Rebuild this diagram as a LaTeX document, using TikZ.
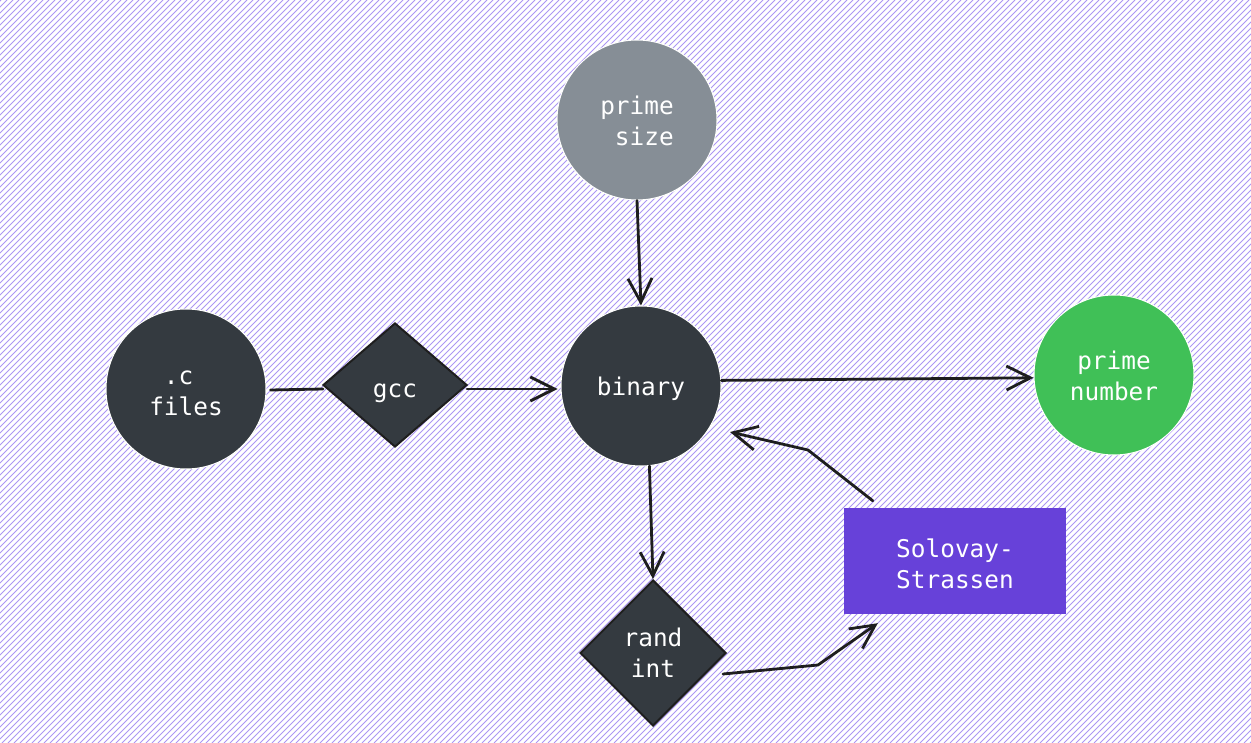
\documentclass[tikz,border=0pt]{standalone}
\usepackage{fontspec}
\usetikzlibrary{shapes.geometric,arrows.meta,calc}
\newfontfamily\monof{DejaVu Sans Mono}
\definecolor{hatchc}{RGB}{172,150,243}
\definecolor{darkfill}{HTML}{343A40}
\definecolor{grayfill}{HTML}{868E96}
\definecolor{greenfill}{HTML}{40C057}
\definecolor{violetfill}{HTML}{6741D9}
\definecolor{ink}{HTML}{1E1E1E}
\newcommand{\lowerby}[2]{\raisebox{-#1}[\height][\depth]{#2}}
\newcommand{\twolines}[3]{\begin{tabular}{@{}#1@{}}#2\\#3\end{tabular}}
\tikzset{
  lbl/.style={text=white, font=\monof\fontsize{24.4}{30.5}\selectfont, align=center},
  roundnode/.style={lbl, circle, minimum size=160pt, inner sep=0pt, draw=white, line width=1pt},
  diamondnode/.style={lbl, diamond, inner sep=0pt, fill=darkfill, draw=ink, line width=2pt},
  boxnode/.style={lbl, rectangle, fill=violetfill, minimum width=222pt, minimum height=106pt, inner sep=0pt},
  conn/.style={draw=ink, line width=2.8pt, line cap=round, line join=round},
  arr/.style={conn, -{Straight Barb[length=24pt,width=24pt,line width=2.8pt]}},
  hatch/.style={draw=hatchc, line width=0.9pt}
}
\begin{document}
\begin{tikzpicture}[x=1pt,y=-1pt]
\useasboundingbox (0,0) rectangle (1251,743);
\fill[white] (0,0) rectangle (1251,743);
\begin{scope}
\clip (0,0) rectangle (1251,743);
\foreach \i in {-760,-754,...,1260} {
  \draw[hatch] (\i,743) -- ({\i+743},0);
}
\end{scope}

\node[roundnode, fill=grayfill] (ps) at (637,120) {\lowerby{4pt}{\twolines{l}{prime}{\hphantom{x}size}}};
\node[roundnode, fill=darkfill] (cf) at (186,389) {\lowerby{5pt}{\twolines{l}{\hphantom{x}.c}{files}}};
\node[diamondnode, minimum width=144pt, minimum height=124pt] (gcc) at (395,385) {\lowerby{8pt}{gcc}};
\node[roundnode, fill=darkfill] (bin) at (641,386) {\lowerby{3pt}{binary}};
\node[roundnode, fill=greenfill] (pn) at (1114,375) {\lowerby{4pt}{\twolines{c}{prime}{number}}};
\node[diamondnode, minimum width=146pt, minimum height=146pt] (ri) at (653,653) {\lowerby{3pt}{\twolines{c}{rand}{int}}};
\node[boxnode] (sol) at (955,561) {\lowerby{6pt}{\twolines{c}{Solovay-}{Strassen}}};

\draw[arr] (ps.south) -- (bin.north);
\draw[conn] ($(cf.east)+(4,1)$) -- ($(gcc.west)+(1,4)$);
\draw[arr] ($(gcc.east)+(-1,4)$) -- ($(bin.west)+(-3,3)$);
\draw[arr] (bin.4) -- (pn.182);
\draw[arr] (bin.-84) -- (ri.north);
\draw[arr] ($(ri.east)+(-4,21)$) -- (818,665) -- ($(sol.south west)+(34,9)$);
\draw[arr] ($(sol.north west)+(29,-7)$) -- (808,450) -- ($(bin)+(89,46)$);
\end{tikzpicture}
\end{document}
